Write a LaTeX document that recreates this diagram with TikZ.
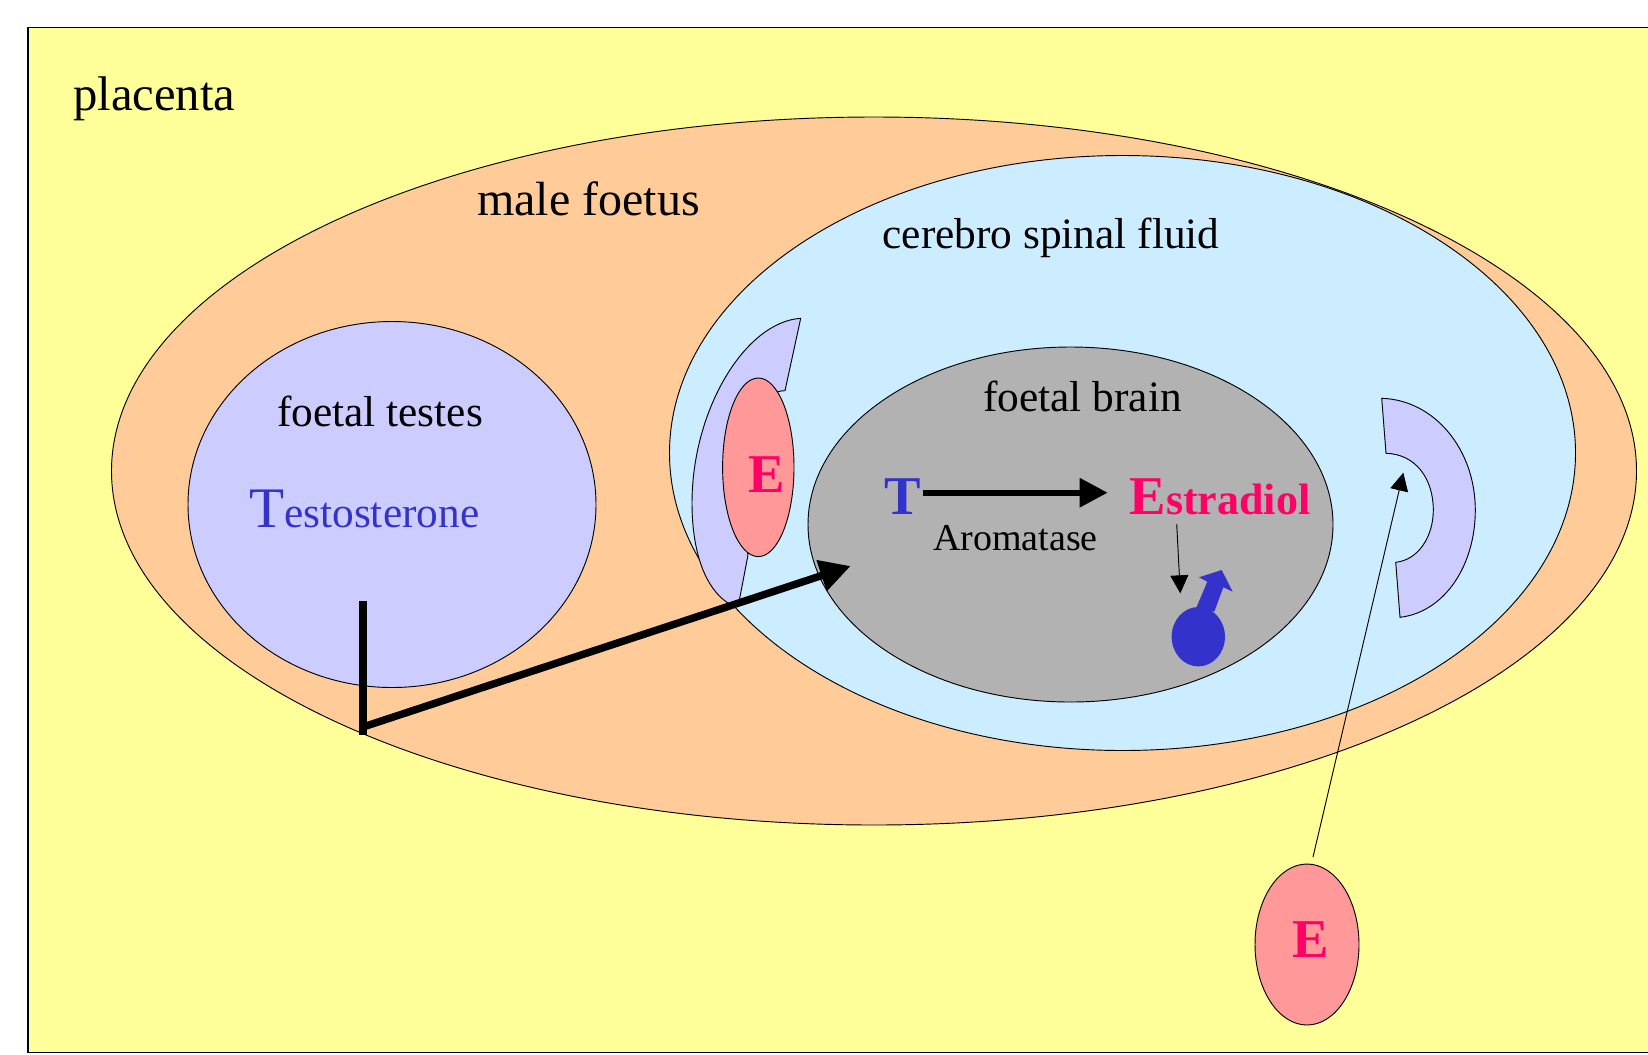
\documentclass[tikz,border=0pt]{standalone}
\usepackage{fontspec}
\setmainfont{Liberation Serif}
\usetikzlibrary{shapes.geometric, arrows.meta}

\definecolor{placentacol}{HTML}{FFFF99}
\definecolor{foetuscol}{HTML}{FFCC99}
\definecolor{fluidcol}{HTML}{CCECFF}
\definecolor{lilaccol}{HTML}{CCCCFF}
\definecolor{braincol}{HTML}{B2B2B2}
\definecolor{estrocol}{HTML}{FF9999}
\definecolor{pinktext}{HTML}{FF0066}
\definecolor{bluetext}{HTML}{3333CC}

\begin{document}
\begin{tikzpicture}[
    x=0.75pt,
    y=-0.75pt,
    region/.style={
        ellipse,
        draw=black,
        line width=0.7pt,
        inner sep=0pt
    },
    outline/.style={
        draw=black,
        line width=0.7pt,
        fill=lilaccol
    },
    caption/.style={
        anchor=base,
        inner sep=0pt,
        font=\fontsize{32.5}{36}\selectfont
    },
    hormone/.style={
        anchor=base west,
        inner sep=0pt,
        font=\fontsize{41}{45}\selectfont\bfseries
    },
    thinarrow/.style={
        -{Triangle[length=13.5pt, width=13.5pt]},
        line width=0.7pt
    },
    fatarrow/.style={
        -{Triangle[length=21pt, width=21pt]},
        line width=4.5pt
    },
    longarrow/.style={
        -{Triangle[length=23pt, width=23pt]},
        line width=5.6pt
    }
]

    \useasboundingbox (0,0) rectangle (1648,1054);

    % Placenta
    \path[draw=black, line width=0.9pt, fill=placentacol] (28,27.5) rectangle (1652,1052.5);
    \node[caption, anchor=base west, font=\fontsize{36.5}{40}\selectfont] (placenta) at (73,110) {placenta};

    % Foetus and fluid
    \node[region, fill=foetuscol, minimum width=1143.75pt, minimum height=531pt] (foetus) at (874,471) {};
    \node[caption, font=\fontsize{36}{40}\selectfont] (foetus_lbl) at (588.5,215) {male foetus};
    \node[region, fill=fluidcol, minimum width=679.5pt, minimum height=446.25pt] (fluid) at (1122.5,453) {};
    \node[caption] (fluid_lbl) at (1051,248) {cerebro spinal fluid};

    % Testes
    \node[region, fill=lilaccol, minimum width=306pt, minimum height=274.5pt] (testes) at (392,504.5) {};
    \node[caption] (testes_lbl) at (380,426.5) {foetal testes};
    \node[caption, anchor=base west, text=bluetext] (testo) at (249,527) {{\fontsize{43}{46}\selectfont T}estosterone};

    % Left receptor with its hormone
    \path[outline] (800.7,318.3) .. controls (745,322) and (692,410) .. (692,503)
        .. controls (692,545) and (702,590) .. (733,606)
        -- (739,602) -- (748,555)
        .. controls (730,470) and (750,390) .. (785,390.7) -- cycle;
    \node[region, fill=estrocol, minimum width=53.55pt, minimum height=133.95pt] (estro_left) at (758.3,467.3) {};
    \node[hormone, text=pinktext] (estro_left_lbl) at (748,492.3) {E};

    % Brain
    \node[region, fill=braincol, minimum width=393.75pt, minimum height=266.25pt] (brain) at (1070.5,524.5) {};
    \node[caption] (brain_lbl) at (1082.5,411) {foetal brain};
    \node[hormone, text=bluetext] (t_lbl) at (884,514) {T};
    \node[hormone, text=pinktext] (estra) at (1129.3,514) {E{\fontsize{33}{36}\selectfont stradiol}};
    \node[caption, font=\fontsize{28.5}{32}\selectfont] (aroma) at (1015.5,550) {Aromatase};
    \coordinate (t_out) at (923.3,492.7);
    \coordinate (estra_in) at (1107.7,492.7);
    \draw[fatarrow] (t_out) -- (estra_in);

    % Male symbol
    \path[fill=bluetext] (1196.7,606.7) -- (1207.3,581.7) -- (1199,577.3) -- (1221.7,570)
        -- (1232.7,591.7) -- (1223.3,587.3) -- (1214.3,611.7) -- cycle;
    \node[ellipse, fill=bluetext, inner sep=0pt, minimum width=40pt, minimum height=44.55pt] (male) at (1198.3,636.7) {};
    \coordinate (estra_out) at (1176.7,524);
    \coordinate (male_in) at (1180.3,593.3);
    \draw[thinarrow] (estra_out) -- (male_in);

    % Right receptor
    \path[outline] (1381.7,398.3) .. controls (1435,400) and (1475.3,450) .. (1475.3,510)
        .. controls (1475.3,565) and (1445,612) .. (1400,617.3)
        -- (1395.7,562.3)
        .. controls (1418,560) and (1433.3,537) .. (1433.3,510)
        .. controls (1433.3,478) and (1415,454) .. (1386,453.3) -- cycle;

    % Hormone from placenta
    \node[region, fill=estrocol, minimum width=78pt, minimum height=120.75pt] (estro_low) at (1307,944.5) {};
    \node[hormone, text=pinktext] (estro_low_lbl) at (1292.5,957.5) {E};
    \coordinate (estro_low_out) at (1313,857);
    \coordinate (recep_in) at (1403.3,472.7);
    \draw[thinarrow] (estro_low_out) -- (recep_in);

    % Path out of testes
    \coordinate (bar_top) at (363,601.3);
    \coordinate (bar_low) at (363,735.3);
    \coordinate (bar_out) at (363,727);
    \coordinate (brain_in) at (850.7,566);
    \draw[line width=5.6pt] (bar_top) -- (bar_low);
    \draw[longarrow] (bar_out) -- (brain_in);

\end{tikzpicture}
\end{document}
